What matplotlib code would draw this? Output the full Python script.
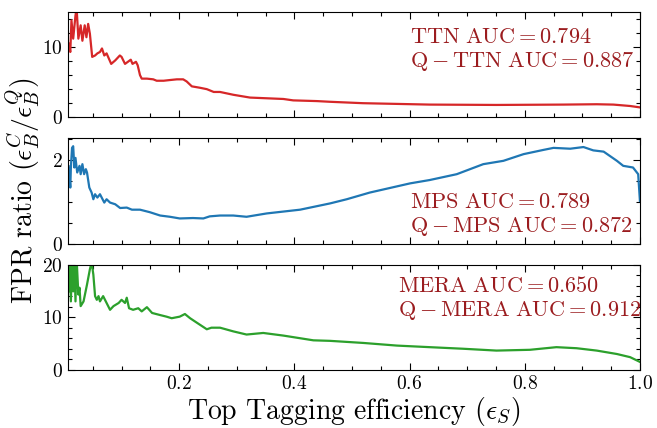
import matplotlib
matplotlib.use("Agg")
import matplotlib.pyplot as plt
from matplotlib.ticker import FixedLocator, MultipleLocator

# signal efficiency vs. FPR ratio (classical / quantum) for each network
eff_ttn = [0.008, 0.011, 0.013, 0.016, 0.020, 0.022, 0.025, 0.029, 0.032, 0.036,
           0.039, 0.042, 0.045, 0.049, 0.054, 0.058, 0.0625, 0.066, 0.070, 0.074,
           0.082, 0.089, 0.097, 0.100, 0.106, 0.111, 0.116, 0.119, 0.125, 0.128,
           0.132, 0.135, 0.144, 0.155, 0.161, 0.173, 0.184, 0.196, 0.207, 0.213,
           0.222, 0.236, 0.248, 0.260, 0.271, 0.294, 0.323, 0.352, 0.381, 0.398,
           0.439, 0.462, 0.519, 0.635, 0.751, 0.867, 0.925, 0.954, 0.983, 1.0]
ratio_ttn = [10.5, 9.3, 13.8, 11.2, 14.5, 15.5, 11.2, 13.1, 10.9, 13.1,
             11.4, 13.3, 11.9, 8.6, 8.8, 9.1, 9.3, 9.8, 8.8, 9.1,
             7.6, 8.1, 8.8, 8.6, 7.6, 7.9, 8.2, 7.6, 7.9, 7.4,
             6.0, 5.5, 5.5, 5.4, 5.2, 5.2, 5.3, 5.4, 5.4, 5.1,
             4.4, 4.2, 4.0, 3.6, 3.6, 3.2, 2.8, 2.7, 2.6, 2.4,
             2.3, 2.2, 2.0, 1.8, 1.75, 1.8, 1.85, 1.8, 1.6, 1.4]

eff_mps = [0.008, 0.011, 0.012, 0.014, 0.016, 0.018, 0.020, 0.023, 0.027, 0.029,
           0.032, 0.035, 0.038, 0.040, 0.044, 0.048, 0.051, 0.054, 0.058, 0.0625,
           0.067, 0.070, 0.074, 0.080, 0.089, 0.0975, 0.109, 0.118, 0.132, 0.149,
           0.167, 0.184, 0.201, 0.224, 0.242, 0.253, 0.271, 0.294, 0.317, 0.352,
           0.410, 0.462, 0.491, 0.531, 0.601, 0.635, 0.682, 0.728, 0.763, 0.798,
           0.832, 0.850, 0.879, 0.902, 0.919, 0.937, 0.960, 0.971, 0.988, 0.997, 1.0]
ratio_mps = [1.85, 1.34, 1.82, 2.29, 2.33, 1.82, 2.05, 1.70, 1.86, 1.66,
             1.90, 1.66, 1.78, 1.70, 1.34, 1.22, 1.06, 1.18, 1.10, 1.18,
             1.06, 0.98, 1.06, 0.98, 0.94, 0.85, 0.86, 0.81, 0.81, 0.75,
             0.67, 0.64, 0.60, 0.61, 0.60, 0.65, 0.67, 0.67, 0.64, 0.72,
             0.81, 0.96, 1.06, 1.22, 1.44, 1.52, 1.66, 1.90, 1.98, 2.14,
             2.24, 2.29, 2.27, 2.31, 2.23, 2.20, 1.98, 1.86, 1.82, 1.66, 1.02]

eff_mera = [0.008, 0.009, 0.010, 0.012, 0.014, 0.016, 0.018, 0.020, 0.022, 0.025,
            0.027, 0.029, 0.034, 0.040, 0.045, 0.048, 0.051, 0.054, 0.057, 0.060,
            0.0625, 0.068, 0.074, 0.080, 0.086, 0.095, 0.100, 0.106, 0.109, 0.113,
            0.120, 0.129, 0.135, 0.144, 0.153, 0.167, 0.178, 0.187, 0.201, 0.210,
            0.219, 0.230, 0.248, 0.256, 0.271, 0.294, 0.317, 0.346, 0.381, 0.433,
            0.462, 0.520, 0.578, 0.635, 0.693, 0.751, 0.809, 0.855, 0.890, 0.925,
            0.960, 0.983, 1.0]
ratio_mera = [19.0, 14.9, 21.0, 13.0, 21.0, 14.9, 21.0, 13.0, 21.0, 14.3,
              15.6, 12.1, 13.0, 16.2, 19.1, 20.4, 18.1, 14.0, 13.3, 14.0,
              13.0, 14.0, 12.7, 11.4, 12.1, 12.7, 13.3, 12.7, 13.7, 11.7,
              11.4, 11.7, 11.1, 11.9, 10.8, 10.4, 10.1, 9.8, 10.1, 10.6,
              9.8, 9.0, 7.7, 8.0, 8.0, 7.3, 6.7, 7.0, 6.5, 5.6,
              5.5, 5.1, 4.6, 4.3, 4.0, 3.65, 3.8, 4.3, 4.1, 3.65,
              3.0, 2.4, 1.5]

panels = [
    (eff_ttn, ratio_ttn, "#d62728", 15, [0, 10], 2,
     ["TTN AUC", "Q", "TTN AUC"], ["0.794", "0.887"], (0.598, 0.635)),
    (eff_mps, ratio_mps, "#1f77b4", 2.52, [0, 2], 0.5,
     ["MPS AUC", "Q", "MPS AUC"], ["0.789", "0.872"], (0.598, 0.27)),
    (eff_mera, ratio_mera, "#2ca02c", 20, [0, 10, 20], 2,
     ["MERA AUC", "Q", "MERA AUC"], ["0.650", "0.912"], (0.577, 0.675)),
]

TEXT_COLOR = "#9b1c1f"

plt.rcParams["font.family"] = "serif"
plt.rcParams["font.serif"] = ["cmr10"]
plt.rcParams["mathtext.fontset"] = "cm"
plt.rcParams["axes.formatter.use_mathtext"] = True
plt.rcParams["axes.unicode_minus"] = False

fig, axes = plt.subplots(3, 1, sharex=True, figsize=(6.57, 4.28), dpi=100)
fig.subplots_adjust(left=0.1035, right=0.974, top=0.972, bottom=0.136, hspace=0.2)

for ax, (x, y, color, ytop, majors, minor, names, aucs, pos) in zip(axes, panels):
    ax.plot(x, y, color=color, lw=1.6)
    ax.set_xlim(0.007, 1.0)
    ax.set_ylim(0, ytop)
    ax.yaxis.set_major_locator(FixedLocator(majors))
    ax.yaxis.set_minor_locator(MultipleLocator(minor))
    ax.xaxis.set_major_locator(MultipleLocator(0.2))
    ax.xaxis.set_minor_locator(MultipleLocator(0.05))
    ax.tick_params(which="both", direction="in", top=True, right=True,
                   labelsize=14, width=0.8)
    ax.tick_params(which="major", length=5)
    ax.tick_params(which="minor", length=3)
    label = (r"$\mathrm{%s} = %s$" % (names[0].replace(" ", r"\ "), aucs[0]) + "\n"
             + r"$\mathrm{%s} - \mathrm{%s} = %s$" % (names[1], names[2].replace(" ", r"\ "), aucs[1]))
    ax.text(pos[0], pos[1], label, transform=ax.transAxes, ha="left", va="center",
            fontsize=16, color=TEXT_COLOR, linespacing=1.15)

axes[-1].set_xlabel(r"Top Tagging efficiency ($\epsilon_S$)", fontsize=20, labelpad=2)
fig.text(0.035, 0.555, r"FPR ratio ($\epsilon_B^C/\epsilon_B^Q$)", rotation=90,
         ha="center", va="center", fontsize=20)

fig.savefig("out.png", dpi=100)
